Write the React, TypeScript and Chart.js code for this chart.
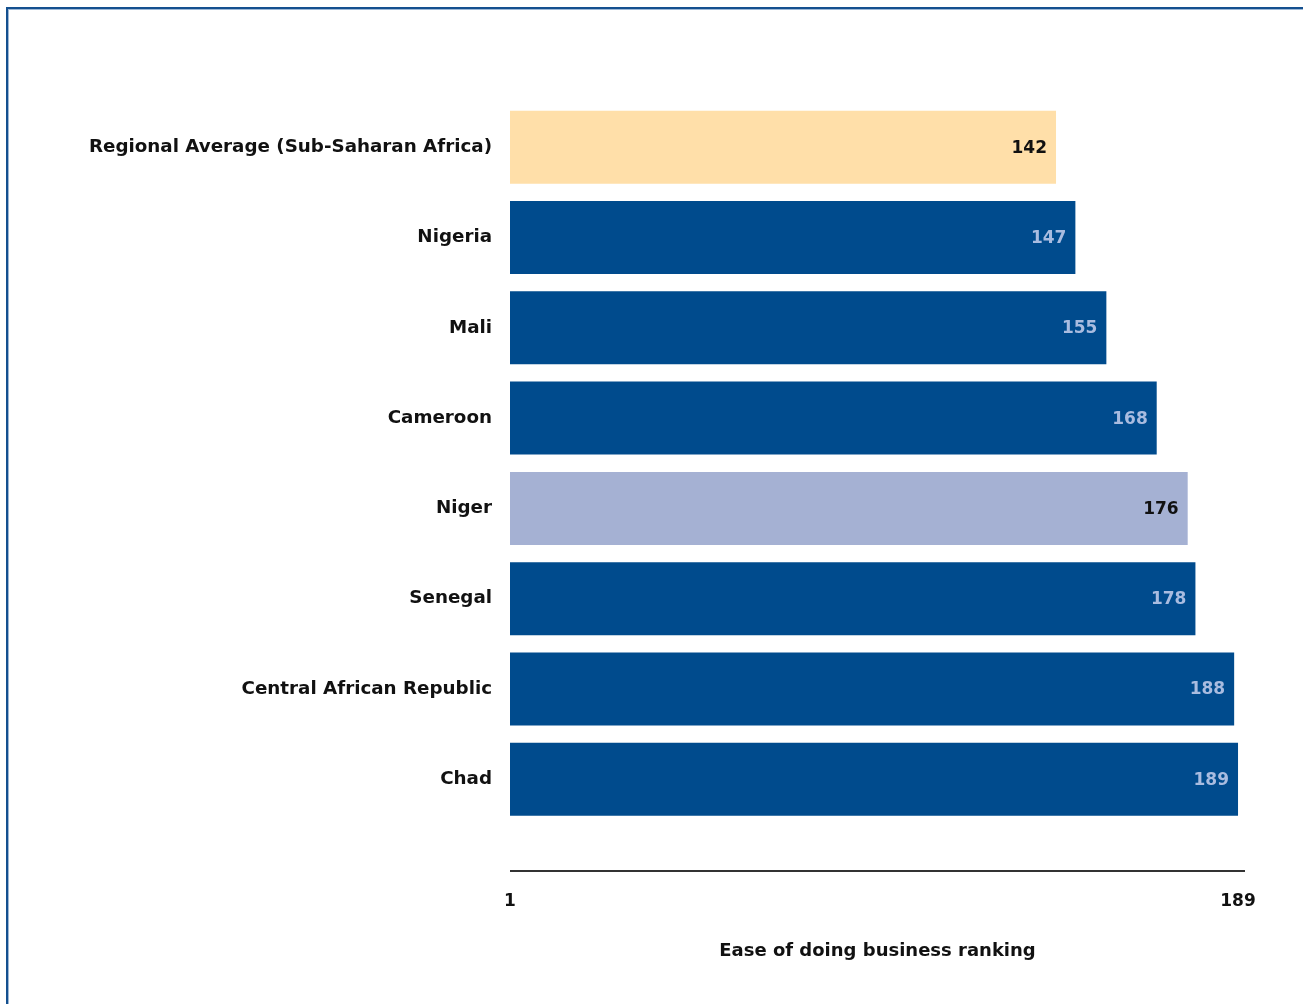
import React, { useEffect, useRef } from "react";
import { Chart, registerables } from "chart.js";

Chart.register(...registerables);

const CATEGORIES = [
  "Regional Average (Sub-Saharan Africa)",
  "Nigeria",
  "Mali",
  "Cameroon",
  "Niger",
  "Senegal",
  "Central African Republic",
  "Chad",
];
const RANKINGS = [142, 147, 155, 168, 176, 178, 188, 189];
const TICK_VALUES = [1, 189];
const AXIS_TITLE = "Ease of doing business ranking";

const DARK_BLUE = "#004B8D";
const PEACH = "#FFDFA9";
const LAVENDER = "#A5B1D3";

function barColor(cat: string): string {
  if (cat.startsWith("Regional")) return PEACH;
  if (cat === "Niger") return LAVENDER;
  return DARK_BLUE;
}
function labelColor(cat: string): string {
  return barColor(cat) === DARK_BLUE ? "#A9BCE0" : "#111111";
}

const FONT = "'DejaVu Sans', Verdana, sans-serif";

const valueLabels = {
  id: "valueLabels",
  afterDatasetsDraw(chart: any) {
    const ctx = chart.ctx;
    const meta = chart.getDatasetMeta(0);
    ctx.save();
    ctx.font = `bold 17px ${FONT}`;
    ctx.textAlign = "right";
    ctx.textBaseline = "middle";
    meta.data.forEach((el: any, i: number) => {
      ctx.fillStyle = labelColor(CATEGORIES[i]);
      ctx.fillText(String(RANKINGS[i]), el.x - 9, el.y + 1);
    });
    ctx.restore();
  },
};

const axisLine = {
  id: "axisLine",
  afterDraw(chart: any) {
    const { ctx, chartArea } = chart;
    const y = Math.round(chartArea.bottom + 46);
    ctx.save();
    ctx.strokeStyle = "#333333";
    ctx.lineWidth = 2;
    ctx.beginPath();
    ctx.moveTo(chartArea.left, y);
    ctx.lineTo(chartArea.right, y);
    ctx.stroke();
    ctx.restore();
  },
};

export default function App() {
  const ref = useRef<HTMLCanvasElement | null>(null);

  useEffect(() => {
    if (!ref.current) return;
    const chart = new Chart(ref.current, {
      type: "bar",
      data: {
        labels: CATEGORIES,
        datasets: [
          {
            data: RANKINGS,
            backgroundColor: CATEGORIES.map(barColor),
            borderWidth: 0,
            barPercentage: 1,
            categoryPercentage: 0.808,
          },
        ],
      },
      options: {
        indexAxis: "y",
        responsive: false,
        animation: false,
        layout: { padding: { left: 0, right: 58, top: 102, bottom: 0 } },
        plugins: {
          legend: { display: false },
          tooltip: { enabled: false },
        },
        scales: {
          x: {
            type: "linear",
            min: 1,
            max: 190.8,
            grid: { display: false, drawTicks: false },
            border: { display: false },
            afterBuildTicks: (scale: any) => {
              scale.ticks = TICK_VALUES.map((v) => ({ value: v }));
            },
            afterFit: (scale: any) => {
              scale.height = 179.5;
              scale.paddingLeft = 0;
              scale.paddingRight = 0;
            },
            ticks: {
              padding: 67,
              maxRotation: 0,
              autoSkip: false,
              color: "#111111",
              font: { family: FONT, size: 17, weight: "bold" },
              callback: (v: any) => String(v),
            },
            title: {
              display: true,
              text: AXIS_TITLE,
              color: "#111111",
              font: { family: FONT, size: 18, weight: "bold" },
              padding: { top: 0, bottom: 42 },
            },
          },
          y: {
            grid: { display: false, drawTicks: false },
            border: { display: false },
            afterFit: (scale: any) => {
              scale.width = 510;
            },
            ticks: {
              padding: 18,
              color: "#111111",
              font: { family: FONT, size: 18.3, weight: "bold" },
            },
          },
        },
      },
      plugins: [valueLabels, axisLine],
    } as any);
    return () => chart.destroy();
  }, []);

  return (
    <div style={{ position: "absolute", left: 0, top: 0, width: 1303, height: 1004, background: "#fff" }}>
      <div
        style={{
          position: "absolute",
          left: 6,
          top: 7,
          width: 1297,
          height: 997,
          borderTop: "2px solid #14508F",
          borderLeft: "2px solid #14508F",
          boxShadow: "inset 1px 1px 0 #9DB8D6",
          boxSizing: "border-box",
        }}
      />
      <canvas
        ref={ref}
        width={1303}
        height={1004}
        style={{ position: "absolute", left: 0, top: 0, width: 1303, height: 1004 }}
      />
    </div>
  );
}
